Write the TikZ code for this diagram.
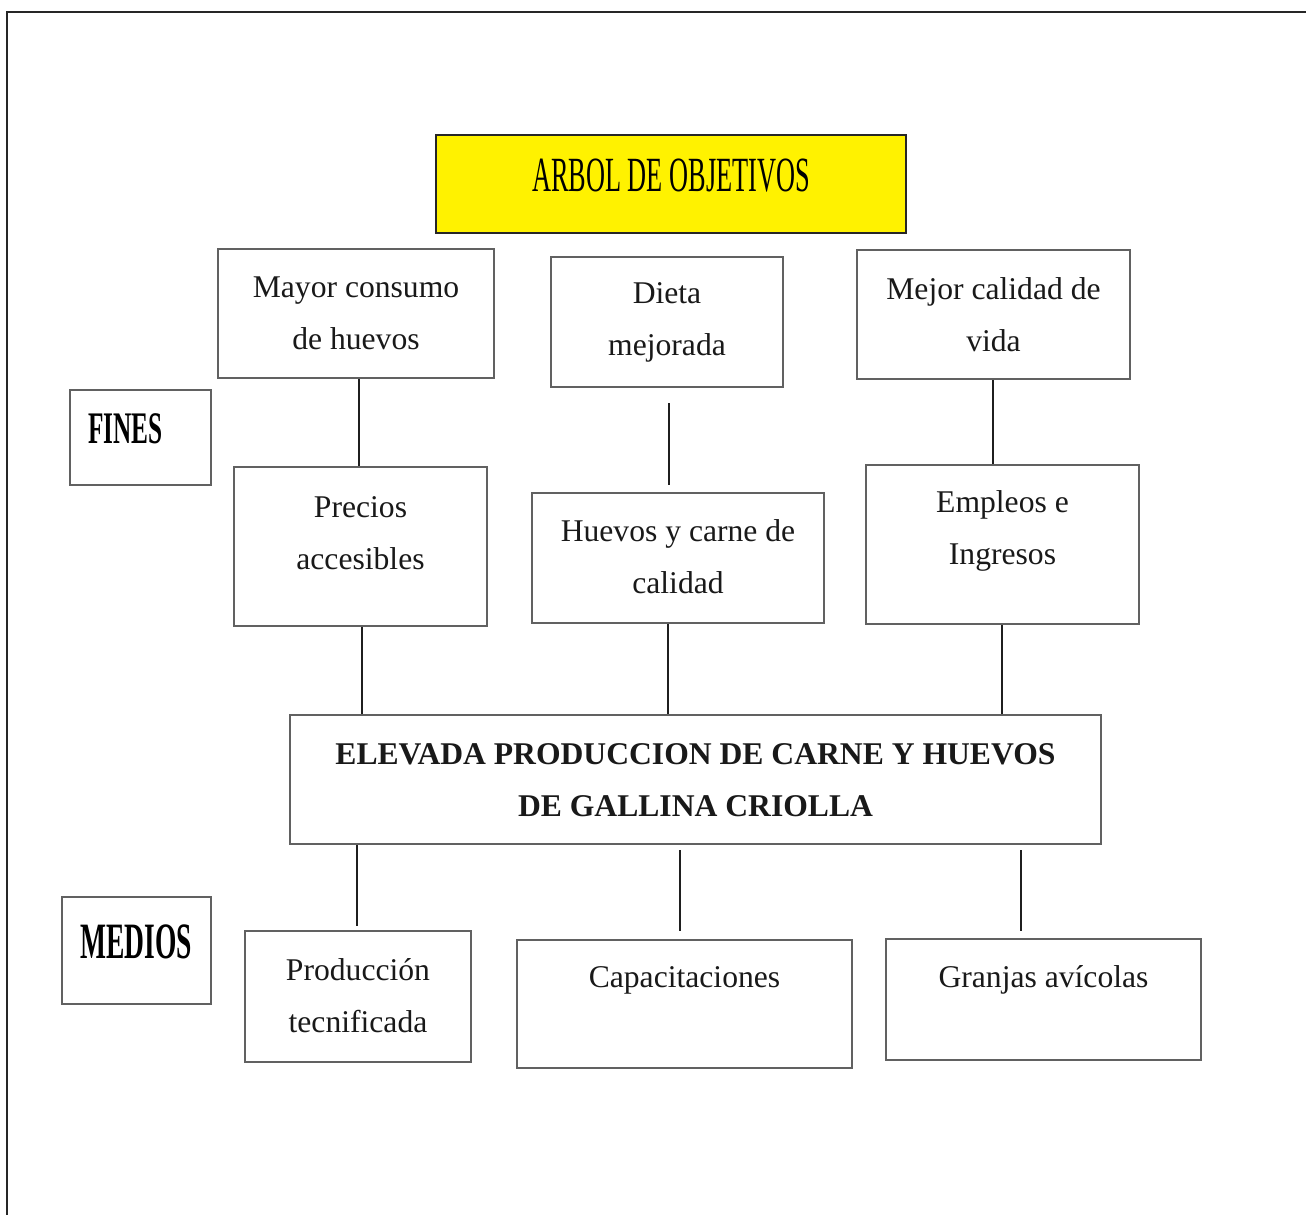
\documentclass[tikz,border=0pt]{standalone}
\usepackage{fontspec}
\setmainfont{Liberation Serif}
\usetikzlibrary{shadows}
\begin{document}
\begin{tikzpicture}[x=0.02cm,y=-0.02cm,
  box/.style={draw=black!62,line width=1.5pt,fill=white,rectangle,inner sep=0pt,
    drop shadow={shadow xshift=0.8pt,shadow yshift=-0.8pt,fill=black!22,opacity=1}},
  titlebox/.style={draw=black!85,line width=1.5pt,fill=yellow,rectangle,inner sep=0pt,
    drop shadow={shadow xshift=0.8pt,shadow yshift=-0.8pt,fill=black!22,opacity=1}},
  txt/.style={align=center,font=\fontsize{18}{29.5}\selectfont,text=black!90,inner sep=0pt},
  btxt/.style={align=center,font=\fontsize{18}{29.5}\selectfont\bfseries,text=black!90,inner sep=0pt},
  conn/.style={draw=black!88,line width=1.6pt},
  frame/.style={draw=black!85,line width=1.1pt}]
\useasboundingbox (0,0) rectangle (1306,1215);
% outer frame (top and left edges)
\coordinate (ftl) at (7,12);
\coordinate (ftr) at (1306,12);
\coordinate (fbl) at (7,1215);
\draw[frame] (ftr) -- (ftl) -- (fbl);

% title
\node[titlebox,minimum width=9.4cm,minimum height=1.96cm] (title) at (671,184) {};
\node[inner sep=0pt] (titlet) at (671,176)
  {\scalebox{0.535}[1]{\fontsize{28}{28}\selectfont ARBOL DE OBJETIVOS}};

% fines row 1
\node[box,minimum width=5.52cm,minimum height=2.58cm] (mayor) at (356,313.5) {};
\node[txt] (mayort) at (356,313) {Mayor consumo\\de huevos};
\node[box,minimum width=4.64cm,minimum height=2.6cm] (dieta) at (667,322) {};
\node[txt] (dietat) at (667,322) {Dieta\\mejorada};
\node[box,minimum width=5.46cm,minimum height=2.58cm] (mejor) at (993.5,314.5) {};
\node[txt] (mejort) at (993.5,315) {Mejor calidad de\\vida};

% FINES label
\node[box,minimum width=2.82cm,minimum height=1.9cm] (fines) at (140.5,437.5) {};
\node[inner sep=0pt] (finest) at (125.5,429)
  {\scalebox{0.56}[1]{\fontsize{25.7}{25.7}\selectfont\bfseries FINES}};

% fines row 2
\node[box,minimum width=5.06cm,minimum height=3.18cm] (precios) at (360.5,546.5) {};
\node[txt] (preciost) at (360.5,533) {Precios\\accesibles};
\node[box,minimum width=5.84cm,minimum height=2.6cm] (huevos) at (678,558) {};
\node[txt] (huevost) at (678,557) {Huevos y carne de\\calidad};
\node[box,minimum width=5.46cm,minimum height=3.18cm] (empleos) at (1002.5,544.5) {};
\node[txt] (empleost) at (1002.5,531) {Empleos e\\Ingresos};

% central objective
\node[box,minimum width=16.22cm,minimum height=2.58cm] (elevada) at (695.5,779.5) {};
\node[btxt] (elevadat) at (695.5,780) {ELEVADA PRODUCCION DE CARNE Y HUEVOS\\DE GALLINA CRIOLLA};

% MEDIOS label
\node[box,minimum width=2.98cm,minimum height=2.14cm] (medios) at (136.5,950.5) {};
\node[inner sep=0pt] (mediost) at (136,942)
  {\scalebox{0.54}[1]{\fontsize{29}{29}\selectfont\bfseries MEDIOS}};

% medios row
\node[box,minimum width=4.52cm,minimum height=2.62cm] (produccion) at (358,996.5) {};
\node[txt] (producciont) at (358,996) {Producción\\tecnificada};
\node[box,minimum width=6.7cm,minimum height=2.56cm] (capac) at (684.5,1004) {};
\node[txt] (capact) at (684.5,980) {Capacitaciones};
\node[box,minimum width=6.3cm,minimum height=2.42cm] (granjas) at (1043.5,999.5) {};
\node[txt] (granjast) at (1043.5,980) {Granjas avícolas};

% connectors
\draw[conn] (mayor.south -| 359,0) -- (precios.north -| 359,0);
\draw[conn,shorten <=0.3cm,shorten >=0.14cm] (dieta.south -| 669,0) -- (huevos.north -| 669,0);
\draw[conn] (mejor.south -| 993,0) -- (empleos.north -| 993,0);
\draw[conn] (precios.south -| 362,0) -- (elevada.north -| 362,0);
\draw[conn] (huevos.south -| 668,0) -- (elevada.north -| 668,0);
\draw[conn] (empleos.south -| 1002,0) -- (elevada.north -| 1002,0);
\draw[conn,shorten >=0.08cm] (elevada.south -| 357,0) -- (produccion.north -| 357,0);
\draw[conn,shorten <=0.1cm,shorten >=0.16cm] (elevada.south -| 680,0) -- (capac.north -| 680,0);
\draw[conn,shorten <=0.1cm,shorten >=0.14cm] (elevada.south -| 1021,0) -- (granjas.north -| 1021,0);
\end{tikzpicture}
\end{document}
